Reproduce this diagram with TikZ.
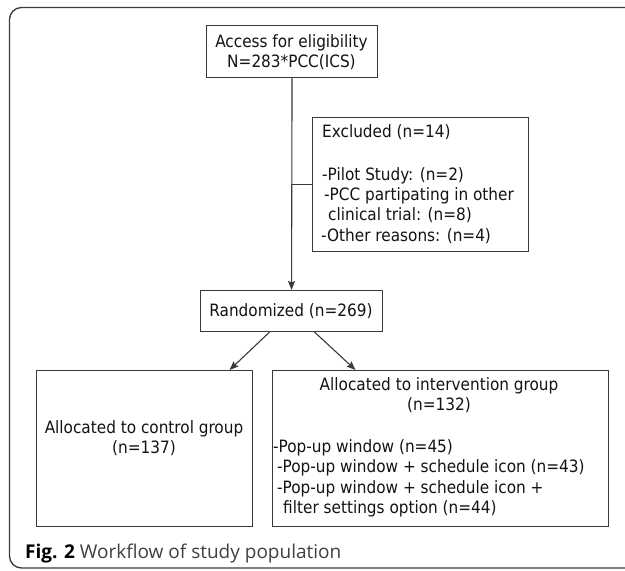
\documentclass[tikz,border=0pt]{standalone}
\usepackage{fontspec}
\setmainfont{DejaVu Sans Condensed}
\newfontfamily\capfont{Open Sans}
\usetikzlibrary{arrows.meta,calc}
\definecolor{linec}{HTML}{3A3A3A}
\definecolor{textc}{HTML}{141414}
\definecolor{framec}{HTML}{3C3C3C}
\definecolor{capc}{HTML}{404040}
\tikzset{
  boxstyle/.style={draw=linec, line width=1.1pt, inner sep=0pt, anchor=north west},
  tl/.style={inner sep=0pt, text=textc, font=\fontsize{17}{20.5}\selectfont},
  conn/.style={draw=linec, line width=1.1pt},
  arr/.style={conn, -{Stealth[length=9pt,width=7pt,inset=1.5pt]}}
}
\begin{document}
\begin{tikzpicture}[x=1pt,y=-1pt]
\useasboundingbox (0,0) rectangle (625,571);
\clip (0,0) rectangle (625,571);
\fill[white] (0,0) rectangle (625,571);
\draw[framec, line width=1.3pt, rounded corners=12pt] (9.5,7.5) rectangle (700,568);

% boxes
\node[boxstyle, minimum width=171pt, minimum height=52pt] (acc) at (206,25) {};
\node[boxstyle, minimum width=216pt, minimum height=134pt] (exc) at (312,117) {};
\node[boxstyle, minimum width=182pt, minimum height=41pt] (rnd) at (200,290) {};
\node[boxstyle, minimum width=216pt, minimum height=156pt] (ctl) at (36,370) {};
\node[boxstyle, minimum width=336pt, minimum height=156pt] (int) at (272,370) {};

% texts
\node[tl, anchor=base] (acc1) at (291.5,47) {Access for eligibility};
\node[tl, anchor=base] (acc2) at (291.5,67) {N=283*PCC(ICS)};

\node[tl, anchor=base west] (exc1) at (322,137) {Excluded (n=14)};
\node[tl, anchor=base west] (exc2) at (322,180) {-Pilot Study: (n=2)};
\node[tl, anchor=base west] (exc3) at (324,200) {-PCC partipating in other};
\node[tl, anchor=base west] (exc4) at (328,220) {clinical trial: (n=8)};
\node[tl, anchor=base west] (exc5) at (321,241) {-Other reasons: (n=4)};

\node[tl, anchor=base] (rnd1) at (291,316) {Randomized (n=269)};

\node[tl, anchor=base] (ctl1) at (144,433) {Allocated to control group};
\node[tl, anchor=base] (ctl2) at (144,453) {(n=137)};

\node[tl, anchor=base] (int1) at (439,390) {Allocated to intervention group};
\node[tl, anchor=base] (int2) at (439,410) {(n=132)};
\node[tl, anchor=base west] (int3) at (273,452) {-Pop-up window (n=45)};
\node[tl, anchor=base west] (int4) at (277,472.5) {-Pop-up window + schedule icon (n=43)};
\node[tl, anchor=base west] (int5) at (277,493) {-Pop-up window + schedule icon +};
\node[tl, anchor=base west] (int6) at (283,513) {filter settings option (n=44)};

% caption
\node[anchor=base west, inner sep=0pt, text=black, font=\capfont\fontsize{19}{22}\selectfont] (cap) at (25,558) {\textbf{Fig. 2} {\color{capc}Workflow of study population}};

% connectors
\draw[arr] (acc.south) -- (rnd.north);
\draw[conn] (acc.south |- exc.west) -- (exc.west);
\draw[arr] ([xshift=-22pt]rnd.south) -- ([xshift=85pt]ctl.north);
\draw[arr] ([xshift=23pt]rnd.south) -- ([xshift=-85pt]int.north);
\end{tikzpicture}
\end{document}
